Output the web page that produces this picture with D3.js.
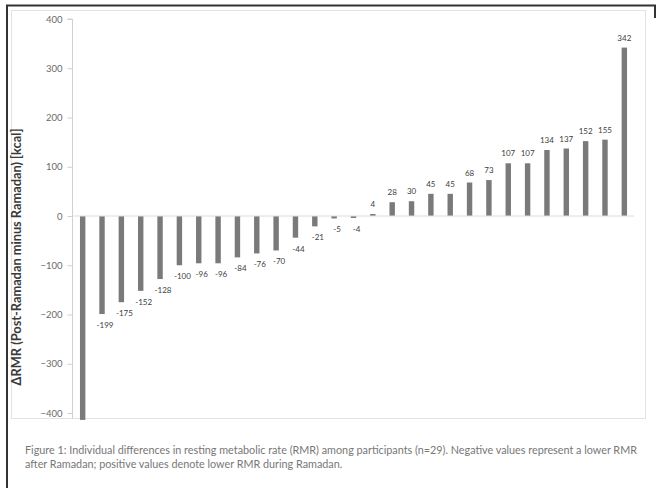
<!DOCTYPE html>
<html>
<head>
<meta charset="utf-8">
<script src="https://cdn.jsdelivr.net/npm/d3@7"></script>
<style>
  html, body { margin: 0; padding: 0; background: #fff; }
  svg { display: block; }
</style>
</head>
<body>
<svg id="chart" width="662" height="488"></svg>
<script>
// Participant identifiers (sorted by change in RMR)
const participants = d3.range(1, 30).map(i => "P" + i);
// Change in resting metabolic rate, kcal (post-Ramadan minus Ramadan)
const deltaRMR = [-414, -199, -175, -152, -128, -100, -96, -96, -84, -76, -70, -44, -21, -5, -4,
                  4, 28, 30, 45, 45, 68, 73, 107, 107, 134, 137, 152, 155, 342];
// Y-axis tick values
const yTicks = [-400, -300, -200, -100, 0, 100, 200, 300, 400];

const yTitle = "ΔRMR (Post-Ramadan minus Ramadan) [kcal]";
const caption = [
  "Figure 1: Individual differences in resting metabolic rate (RMR) among participants (n=29). Negative values represent a lower RMR",
  "after Ramadan; positive values denote lower RMR during Ramadan."
];

const svg = d3.select("#chart");
const font = "Lato, 'Open Sans', sans-serif";

// Outer border of the figure
svg.append("path")
  .attr("d", "M7,488 V5.5 H655 V18")
  .attr("fill", "none").attr("stroke", "#333").attr("stroke-width", 2);

// Chart area frame
svg.append("rect")
  .attr("x", 11.5).attr("y", 10.5).attr("width", 634).attr("height", 408)
  .attr("fill", "none").attr("stroke", "#e3e3e3").attr("stroke-width", 1);

const x = d3.scaleBand().domain(participants).range([73, 634]).paddingInner(0.72).paddingOuter(0.36);
const y = d3.scaleLinear().domain([-400, 400]).range([413, 19]);

const plot = svg.append("g");

// Bars clipped to the chart area
svg.append("clipPath").attr("id", "plotClip")
  .append("rect").attr("x", 11).attr("y", 10).attr("width", 635).attr("height", 410);

plot.append("g").attr("clip-path", "url(#plotClip)")
  .selectAll("rect").data(deltaRMR).join("rect")
  .attr("x", (d, i) => x(participants[i]))
  .attr("width", x.bandwidth())
  .attr("y", d => y(Math.max(0, d)))
  .attr("height", d => Math.max(1.5, Math.abs(y(d) - y(0))))
  .attr("fill", "#7a7a7a");

// Category axis line at zero
plot.append("line")
  .attr("x1", 73).attr("x2", 634).attr("y1", y(0)).attr("y2", y(0))
  .attr("stroke", "#dcdcdc").attr("stroke-width", 1);

// Y axis
const yAxis = d3.axisLeft(y).tickValues(yTicks).tickSize(5).tickPadding(5).tickFormat(d3.format("d"));
const ya = svg.append("g").attr("transform", "translate(72.5,0)").call(yAxis);
ya.select(".domain").attr("stroke", "#d0d0d0").attr("d", `M-5,${y(400)}H0V${y(-400) + 6}`);
ya.selectAll(".tick line").attr("stroke", "#d0d0d0");
ya.selectAll(".tick text")
  .attr("fill", "#6a6a6a").attr("font-family", font).attr("font-size", 9.5);

// Y axis title
svg.append("text")
  .attr("transform", "translate(21,257) rotate(-90)")
  .attr("text-anchor", "middle")
  .attr("font-family", font).attr("font-size", 12.8).attr("font-weight", "bold")
  .attr("fill", "#3a3a3a")
  .text(yTitle);

// Value labels (only those that fall inside the chart area)
plot.append("g").selectAll("text")
  .data(deltaRMR.map((v, i) => ({ v, i })).filter(d => d.v >= y.domain()[0]))
  .join("text")
  .attr("x", d => x(participants[d.i]) + x.bandwidth() / 2 + (d.v < 0 ? 3 : 0))
  .attr("y", d => d.v < 0 ? y(d.v) + 14 : y(d.v) - 7)
  .attr("text-anchor", "middle")
  .attr("font-family", font).attr("font-size", 8)
  .attr("fill", "#404040")
  .text(d => d.v);

// Caption
svg.append("g").selectAll("text").data(caption).join("text")
  .attr("x", 25).attr("y", (d, i) => 454 + i * 14)
  .attr("font-family", font).attr("font-size", 10.8)
  .attr("fill", "#777")
  .text(d => d);
</script>
</body>
</html>
